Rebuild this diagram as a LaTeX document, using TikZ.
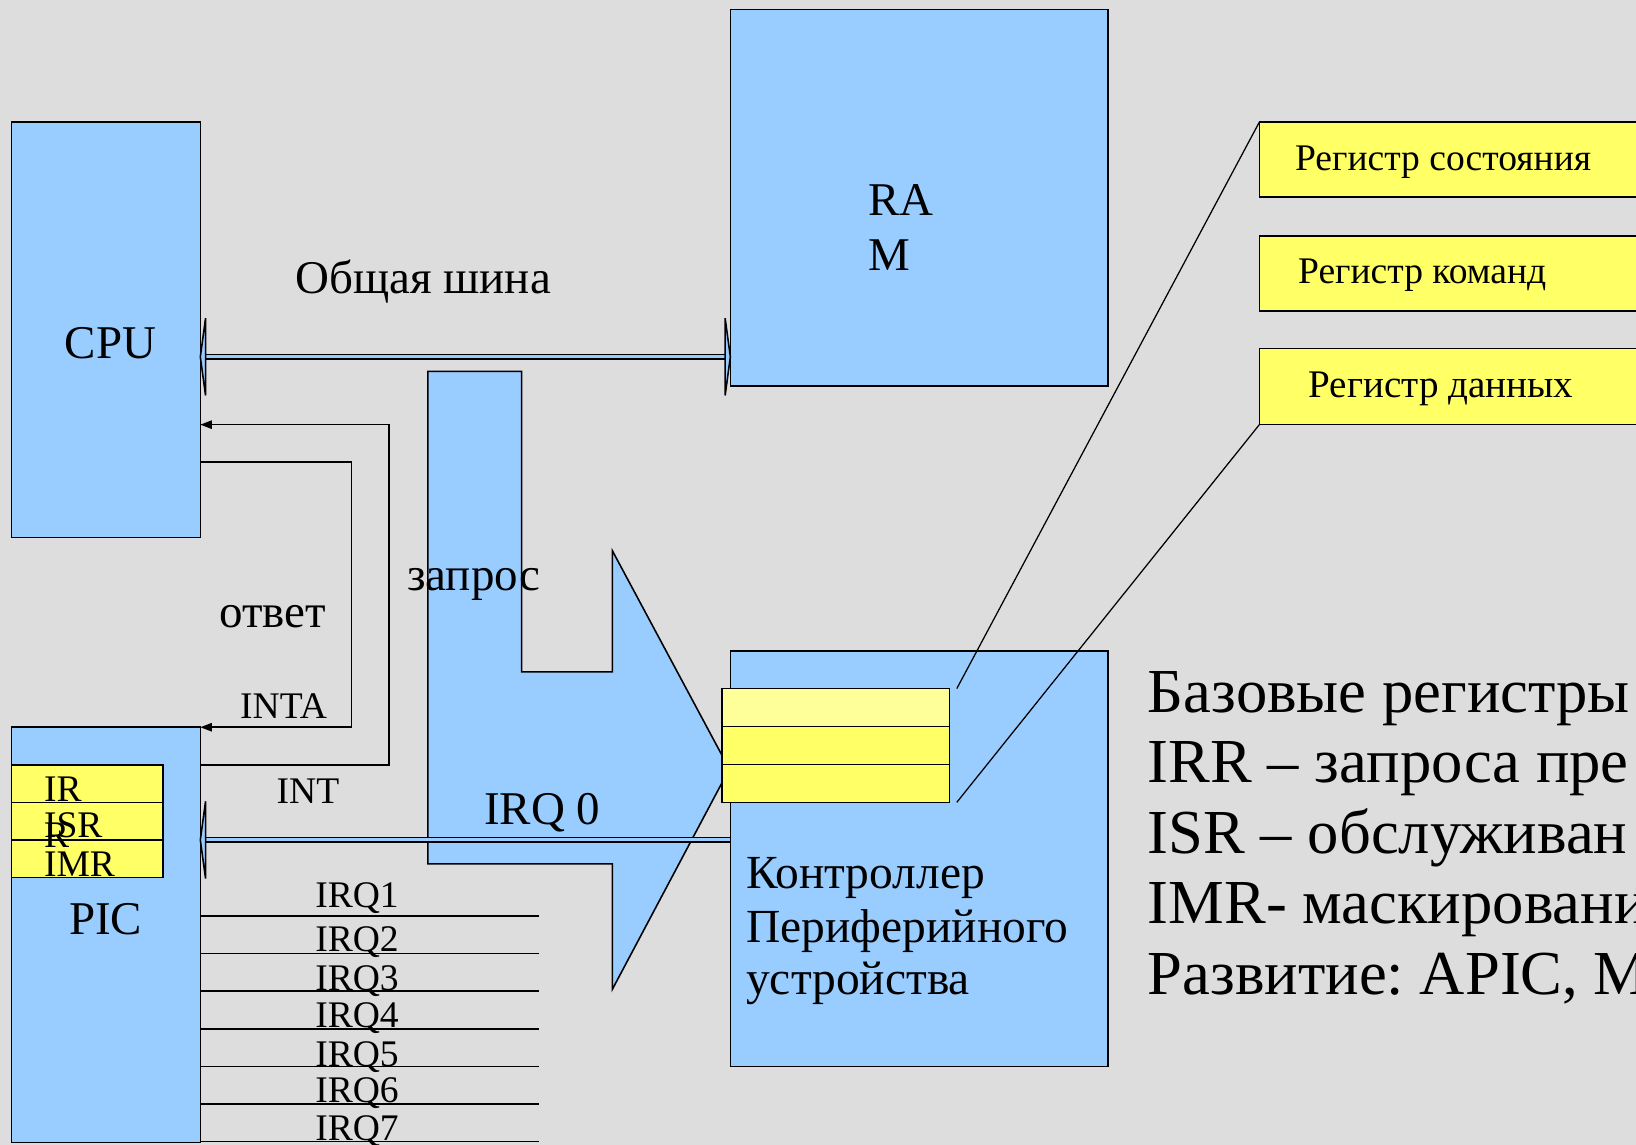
\documentclass[tikz,border=0pt]{standalone}
\usepackage{fontspec}
\setmainfont{Liberation Serif}
\usetikzlibrary{arrows.meta,calc}
\definecolor{bgc}{HTML}{DDDDDD}
\definecolor{blu}{HTML}{99CCFF}
\definecolor{yel}{HTML}{FFFF66}
\definecolor{yell}{HTML}{FFFF99}
\frenchspacing
\begin{document}
\begin{tikzpicture}[x=1pt,y=-1pt,
  blk/.style={draw=black,line width=1.5pt,fill=blu,inner sep=0pt,outer sep=0pt,anchor=north west},
  regbox/.style={draw=black,line width=1.5pt,fill=yel,inner sep=0pt,outer sep=0pt,anchor=north west},
  txt/.style={inner sep=0pt,anchor=base west},
  lbA/.style={txt,font=\fontsize{45}{51}\selectfont},
  lbB/.style={txt,font=\fontsize{36}{40}\selectfont},
  lbC/.style={txt,font=\fontsize{60}{67}\selectfont},
  wire/.style={line width=1.5pt},
  link/.style={line width=1.2pt},
  tipa/.style={-{Triangle[length=11pt,width=8pt]}},
  busbar/.style={draw=black,line width=1.2pt,fill=blu},
  bustip/.style={draw=black,line width=1.5pt,fill=blu,line join=miter}]

% canvas
\useasboundingbox (0,0) rectangle (1568,1097);
\fill[bgc] (0,0) rectangle (1568,1097);
\clip (0,0) rectangle (1568,1097);

% main blocks
\node[blk,minimum width=362pt,minimum height=361pt] (ram) at (700,9) {};
\node[blk,minimum width=181pt,minimum height=398pt] (cpu) at (11,117) {};
\node[blk,minimum width=181pt,minimum height=398pt] (pic) at (11,697) {};

% PIC registers
\node[regbox,minimum width=145pt,minimum height=36pt] (irr) at (11,733) {};
\node[regbox,minimum width=145pt,minimum height=36pt] (isr) at (11,769) {};
\node[regbox,minimum width=145pt,minimum height=36pt] (imr) at (11,805) {};

% system bus between CPU and RAM
\coordinate (busy) at (0,342);
\coordinate (busA) at (cpu.east |- busy);
\coordinate (busB) at (ram.west |- busy);
\draw[busbar] ($(busA)+(4,-2)$) rectangle ($(busB)+(-3,2)$);
\draw[bustip] ($(busA)+(5,-37)$) -- (busA) -- ($(busA)+(5,37)$) -- cycle;
\draw[bustip] ($(busB)+(-5,-37)$) -- (busB) -- ($(busB)+(-5,37)$) -- cycle;

% request arrow
\filldraw[fill=blu,draw=black,line width=1.5pt,line join=miter]
  (410,356) -- (500,356) -- (500,644) -- (587,644) -- (587,528)
  -- (699,737) -- (587,948) -- (587,828) -- (410,828) -- cycle;

% device controller
\node[blk,minimum width=362pt,minimum height=398pt] (ctrl) at (700,624) {};

% IRQ 0 line from the controller to the PIC
\coordinate (irqy) at (0,805);
\coordinate (irqA) at (pic.east |- irqy);
\coordinate (irqB) at (ctrl.west |- irqy);
\draw[busbar] ($(irqA)+(4,-2)$) rectangle ($(irqB)+(0,2)$);
\draw[bustip] ($(irqA)+(5,-37)$) -- (irqA) -- ($(irqA)+(5,37)$) -- cycle;

% controller registers
\node[regbox,fill=yell,minimum width=218pt,minimum height=36.3pt] (creg1) at (692,660) {};
\node[regbox,minimum width=218pt,minimum height=36.3pt] (creg2) at (692,696.3) {};
\node[regbox,minimum width=218pt,minimum height=36.3pt] (creg3) at (692,732.7) {};

% detailed registers
\node[regbox,minimum width=500pt,minimum height=72pt] (sreg1) at (1207,117) {};
\node[regbox,minimum width=500pt,minimum height=72pt] (sreg2) at (1207,226) {};
\node[regbox,minimum width=500pt,minimum height=73pt] (sreg3) at (1207,334) {};
\draw[link] ($(creg1.north east)+(7,0)$) -- (sreg1.north west);
\draw[link] ($(creg3.south east)+(7,0)$) -- (sreg3.south west);

% INT and INTA signals
\coordinate (intLow) at (373,733);
\coordinate (intHigh) at (373,407);
\draw[wire,tipa] (pic.east |- intLow) -- (intLow) -- (intHigh) -- (cpu.east |- intHigh);
\coordinate (intaHigh) at (337,443);
\coordinate (intaLow) at (337,697);
\draw[wire,tipa] (cpu.east |- intaHigh) -- (intaHigh) -- (intaLow) -- (pic.north east);

% IRQ1..IRQ7 lines
\foreach \i/\yy/\by in {1/878/870,2/914/912,3/950/949,4/986/985,5/1022/1022,6/1058/1057,7/1094/1093}{
  \coordinate (irq\i) at (517,\yy);
  \draw[wire] (pic.east |- irq\i) -- (irq\i);
  \node[lbB] (irqlbl\i) at (302,\by) {IRQ\i};
}

% labels
\node[lbA] (tcpu) at (62,344) {CPU};
\node[lbA] (tram1) at (832,207) {RA};
\node[lbA] (tram2) at (832,259) {M};
\node[lbA] (tbus) at (283,281) {Общая шина};
\node[lbA] (treq) at (390,566) {запрос};
\node[lbA] (tans) at (210,601) {ответ};
\node[lbB] (tinta) at (230,689) {INTA};
\node[lbB] (tint) at (265,770) {INT};
\node[lbA] (tirq0) at (464,790) {IRQ 0};
\node[lbB] (tir) at (42,768) {IR};
\node[lbB] (tisr) at (42,803) {ISR};
\node[lbB] (tir2) at (42,812) {R};
\node[lbB] (timr) at (42,840) {IMR};
\node[lbA] (tpic) at (66,896) {PIC};
\node[lbA,font=\fontsize{45.5}{51}\selectfont] (tc1) at (715,852) {Контроллер};
\node[lbA,font=\fontsize{45.5}{51}\selectfont] (tc2) at (715,903) {Периферийного};
\node[lbA,font=\fontsize{45.5}{51}\selectfont] (tc3) at (715,953) {устройства};
\node[lbB] (ts1) at (1241,163) {Регистр состояния};
\node[lbB] (ts2) at (1244,272) {Регистр команд};
\node[lbB,font=\fontsize{37.5}{41}\selectfont] (ts3) at (1254,381) {Регистр данных};
\node[lbC] (tr1) at (1100,683) {Базовые регистры};
\node[lbC] (tr2) at (1100,750) {IRR – запроса пре};
\node[lbC] (tr3) at (1100,818) {ISR – обслуживан};
\node[lbC] (tr4) at (1100,885) {IMR- маскировани};
\node[lbC] (tr5) at (1100,953) {Развитие: APIC, M};
\end{tikzpicture}
\end{document}
